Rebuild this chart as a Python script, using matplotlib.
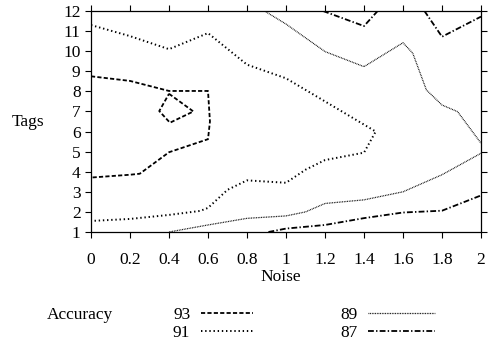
import matplotlib
matplotlib.use("Agg")
import matplotlib.pyplot as plt
from matplotlib.lines import Line2D

plt.rcParams['font.family'] = ['Liberation Serif', 'DejaVu Serif']
plt.rcParams['lines.scale_dashes'] = False

# Contour levels (Accuracy) and their traced polylines (Noise, Tags)
levels = [93, 91, 89, 87]

c93_a_x = [0.0, 0.2, 0.4, 0.6, 0.61, 0.6, 0.4, 0.25, 0.2, 0.0]
c93_a_y = [8.75, 8.52, 8.02, 8.02, 6.5, 5.62, 4.97, 3.9, 3.85, 3.71]
c93_b_x = [0.40, 0.525, 0.405, 0.35, 0.40]
c93_b_y = [7.88, 7.0, 6.44, 7.02, 7.88]

c91_x = [0.0, 0.2, 0.4, 0.6, 0.8, 1.0, 1.2, 1.46, 1.4, 1.2, 1.1, 1.0,
         0.8, 0.7, 0.6, 0.56, 0.4, 0.2, 0.0]
c91_y = [11.3, 10.75, 10.1, 10.9, 9.33, 8.65, 7.5, 6.0, 4.95, 4.58, 4.1, 3.45,
         3.57, 3.1, 2.2, 2.05, 1.85, 1.65, 1.55]

c89_a_x = [0.89, 1.0, 1.2, 1.4, 1.6, 1.65, 1.72, 1.8, 1.88, 2.0]
c89_a_y = [12.0, 11.35, 9.98, 9.23, 10.42, 9.9, 8.07, 7.32, 6.99, 5.42]
c89_b_x = [0.4, 0.6, 0.8, 1.0, 1.1, 1.2, 1.4, 1.6, 1.8, 2.0]
c89_b_y = [1.0, 1.35, 1.68, 1.8, 2.0, 2.42, 2.6, 3.0, 3.85, 4.92]

c87_a_x = [1.19, 1.4, 1.47]
c87_a_y = [12.0, 11.25, 12.0]
c87_b_x = [1.71, 1.8, 2.0]
c87_b_y = [12.0, 10.72, 11.72]
c87_c_x = [0.91, 1.0, 1.2, 1.4, 1.6, 1.8, 2.0]
c87_c_y = [1.0, 1.17, 1.35, 1.69, 1.97, 2.06, 2.82]

segments = {
    93: [(c93_a_x, c93_a_y), (c93_b_x, c93_b_y)],
    91: [(c91_x, c91_y)],
    89: [(c89_a_x, c89_a_y), (c89_b_x, c89_b_y)],
    87: [(c87_a_x, c87_a_y), (c87_b_x, c87_b_y), (c87_c_x, c87_c_y)],
}

x_ticks = [0, 0.2, 0.4, 0.6, 0.8, 1, 1.2, 1.4, 1.6, 1.8, 2]
x_labels = ['0', '0.2', '0.4', '0.6', '0.8', '1', '1.2', '1.4', '1.6', '1.8', '2']
y_ticks = list(range(1, 13))

styles = {
    93: dict(lw=1.3, dashes=(3.0, 1.6), color='black'),
    91: dict(lw=1.4, dashes=(1.0, 2.0), color='black'),
    89: dict(lw=0.9, dashes=(0.6, 0.6), color='black'),
    87: dict(lw=1.3, dashes=(4.2, 1.6, 1.0, 1.6), color='black'),
}

fig = plt.figure(figsize=(4.89, 3.41), dpi=100)
W, H = 489, 341
ax = fig.add_axes([91 / W, 1 - 232 / H, (481 - 91) / W, (232 - 11) / H])

for lev in levels:
    for xs, ys in segments[lev]:
        ax.plot(xs, ys, solid_capstyle='butt', dash_capstyle='butt', **styles[lev])

ax.set_xlim(0, 2)
ax.set_ylim(1, 12)
ax.set_xticks(x_ticks)
ax.set_xticklabels(x_labels)
ax.set_yticks(y_ticks)
fs = 12.5
ax.tick_params(direction='out', length=4.5, width=0.8, labelsize=fs,
               top=True, right=True, pad=3)
ax.tick_params(axis='x', pad=10)
for s in ax.spines.values():
    s.set_linewidth(0.9)

ax.set_xlabel('Noise', fontsize=fs)
ax.xaxis.set_label_coords((281 - 91) / (481 - 91), -(277 - 232) / (232 - 11),
                          transform=ax.transAxes)
ax.xaxis.label.set_va('center')
fig.text(12 / W, 1 - 122 / H, 'Tags', fontsize=fs, ha='left', va='center')

handles = [Line2D([], [], **styles[lev]) for lev in levels]
labels = [str(lev) for lev in levels]
common = dict(markerfirst=False, frameon=False, fontsize=fs, handletextpad=0.6,
              labelspacing=0.1, loc='upper left', borderpad=0, borderaxespad=0)
leg1 = fig.legend(handles[:2], labels[:2], handlelength=3.0,
                  bbox_to_anchor=(173 / W, 1 - 307 / H), **common)
leg2 = fig.legend(handles[2:], labels[2:], handlelength=3.85,
                  bbox_to_anchor=(340 / W, 1 - 307 / H), **common)
fig.text(47 / W, 1 - 315 / H, 'Accuracy', fontsize=fs, ha='left', va='center')

fig.savefig('out.png', dpi=100)
